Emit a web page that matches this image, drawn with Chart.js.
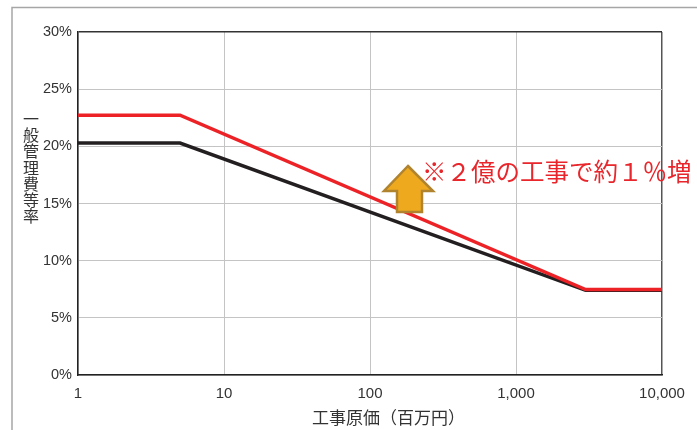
<!DOCTYPE html>
<html>
<head>
<meta charset="utf-8">
<script src="https://cdn.jsdelivr.net/npm/chart.js@4"></script>
<style>
html,body{margin:0;padding:0;background:#fff;}
#wrap{position:relative;width:697px;height:430px;}
</style>
</head>
<body>
<div id="wrap"><canvas id="c" width="697" height="430"></canvas></div>
<script>
// ---- data ----
const costX = [1, 5, 3000, 10000];               // 工事原価（百万円）
const rateNew = [22.72, 22.72, 7.47, 7.47];      // red series (%)
const rateOld = [20.29, 20.29, 7.41, 7.41];      // black series (%)
const xTicks = [1, 10, 100, 1000, 10000];
const xTickLabels = ['1', '10', '100', '1,000', '10,000'];
const yTicks = [0, 5, 10, 15, 20, 25, 30];
const yTitle = '一般管理費等率';
const xTitle = '工事原価（百万円）';
const note = '※２億の工事で約１％増';

const tickFont = {family: "'Liberation Sans',Arial,sans-serif", size: 15};
const yTickFont = {family: "'Liberation Sans',Arial,sans-serif", size: 14.5};

const decor = {
  id: 'decor',
  beforeDraw(chart) {
    const ctx = chart.ctx;
    ctx.save();
    ctx.fillStyle = '#fff';
    ctx.fillRect(0, 0, chart.width, chart.height);
    ctx.strokeStyle = '#a6a6a6';
    ctx.lineWidth = 1.5;
    ctx.beginPath();
    ctx.moveTo(12, 430);
    ctx.lineTo(12, 7.5);
    ctx.lineTo(697, 7.5);
    ctx.stroke();
    ctx.restore();
  },
  afterDraw(chart) {
    const ctx = chart.ctx;
    ctx.save();
    // y title, stacked upright characters
    ctx.fillStyle = '#333';
    ctx.font = "16px 'Noto Sans CJK JP', sans-serif";
    ctx.textAlign = 'center';
    ctx.textBaseline = 'middle';
    Array.from(yTitle).forEach((ch, i) => ctx.fillText(ch, 31, 119 + i * 16.2));
    // x title
    ctx.font = "17px 'Noto Sans CJK JP', sans-serif";
    ctx.textAlign = 'left';
    ctx.fillText(xTitle, 312, 418);
    // arrow
    const tipY = 166, headY = 191, botY = 212;
    ctx.beginPath();
    ctx.moveTo(408, tipY);
    ctx.lineTo(433, headY);
    ctx.lineTo(422, headY);
    ctx.lineTo(422, botY);
    ctx.lineTo(397, botY);
    ctx.lineTo(397, headY);
    ctx.lineTo(384, headY);
    ctx.closePath();
    ctx.fillStyle = '#EFA91E';
    ctx.fill();
    ctx.strokeStyle = '#B0832E';
    ctx.lineWidth = 2.5;
    ctx.stroke();
    // note text
    ctx.fillStyle = '#E8262B';
    ctx.font = "24.5px 'Noto Sans CJK JP', sans-serif";
    ctx.textAlign = 'left';
    ctx.textBaseline = 'middle';
    ctx.fillText(note, 422, 172);
    ctx.restore();
  }
};

new Chart(document.getElementById('c'), {
  type: 'line',
  data: {
    datasets: [
      {
        label: 'new',
        data: costX.map((x, i) => ({x: x, y: rateNew[i]})),
        borderColor: '#EC2227',
        borderWidth: 3.5,
        pointRadius: 0,
        fill: false,
        tension: 0
      },
      {
        label: 'old',
        data: costX.map((x, i) => ({x: x, y: rateOld[i]})),
        borderColor: '#231F20',
        borderWidth: 3.5,
        pointRadius: 0,
        fill: false,
        tension: 0
      }
    ]
  },
  options: {
    responsive: false,
    animation: false,
    devicePixelRatio: 1,
    layout: {padding: {left: 0, right: 35, top: 32, bottom: 0}},
    plugins: {legend: {display: false}, tooltip: {enabled: false}, title: {display: false}},
    scales: {
      x: {
        type: 'logarithmic',
        min: 1,
        max: 10000,
        afterBuildTicks(scale) { scale.ticks = xTicks.map(v => ({value: v})); },
        afterFit(scale) { scale.height = 55; },
        ticks: {
          color: '#333',
          font: tickFont,
          padding: 10,
          maxRotation: 0,
          autoSkip: false,
          callback(value) { const i = xTicks.indexOf(value); return i >= 0 ? xTickLabels[i] : ''; }
        },
        grid: {
          drawTicks: false,
          color: (c) => (c.tick && c.tick.value === 10000) ? '#555' : '#c4c4c4',
          lineWidth: (c) => (c.tick && c.tick.value === 10000) ? 1.5 : 1
        },
        border: {color: '#222', width: 1.5}
      },
      y: {
        min: 0,
        max: 30,
        afterBuildTicks(scale) { scale.ticks = yTicks.map(v => ({value: v})); },
        afterFit(scale) { scale.width = 78; },
        ticks: {
          color: '#333',
          font: yTickFont,
          padding: 6,
          callback(value) { return value + '%'; }
        },
        grid: {
          drawTicks: false,
          color: (c) => (c.tick && c.tick.value === 30) ? '#333' : '#c4c4c4',
          lineWidth: (c) => (c.tick && c.tick.value === 30) ? 1.5 : 1
        },
        border: {color: '#222', width: 1.5}
      }
    }
  },
  plugins: [decor]
});
</script>
</body>
</html>
